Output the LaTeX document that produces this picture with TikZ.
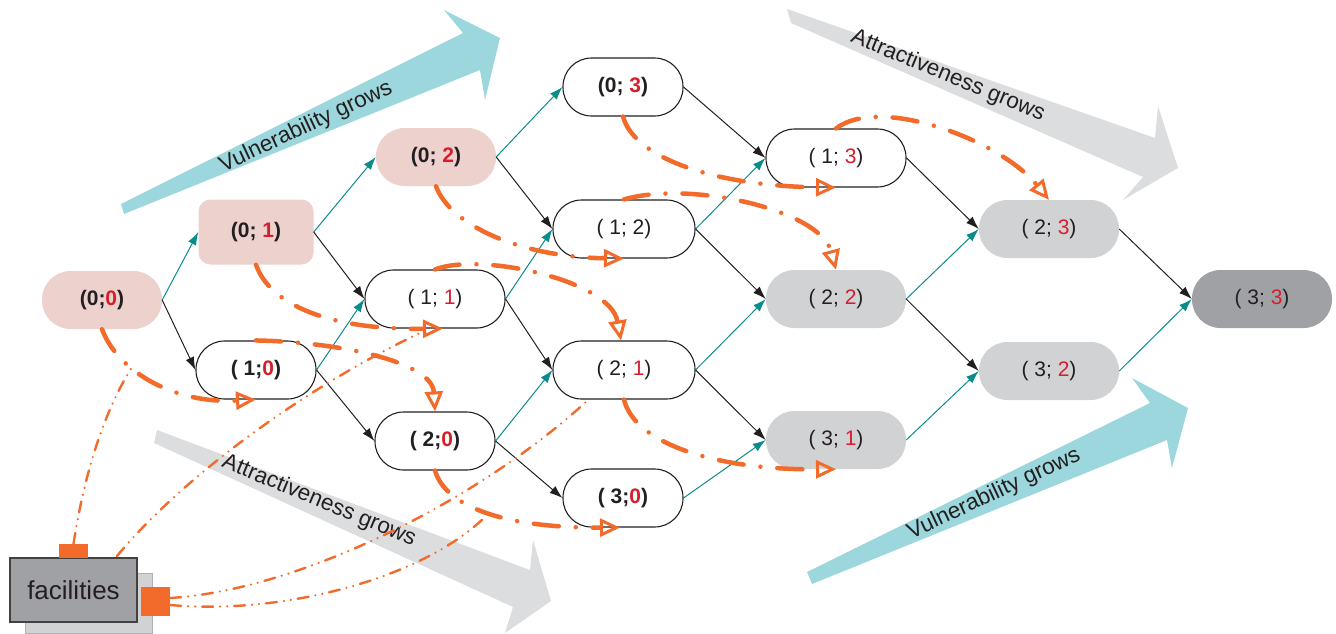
\documentclass[tikz,border=0pt]{standalone}
\usepackage{fontspec}
\setmainfont{Liberation Sans}
\usetikzlibrary{arrows.meta}
\definecolor{pinkf}{HTML}{EDD1CD}
\definecolor{grayf}{HTML}{D1D2D4}
\definecolor{dgrayf}{HTML}{A0A1A5}
\definecolor{tealc}{HTML}{0A8C8C}
\definecolor{lteal}{HTML}{9CD7DD}
\definecolor{lgray}{HTML}{DCDDDF}
\definecolor{orng}{HTML}{F26B2A}
\definecolor{nred}{HTML}{D51F2D}
\definecolor{txt}{HTML}{231F20}
\newcommand\rd[1]{\textcolor{nred}{#1}}
\begin{document}
\begin{tikzpicture}[x=1pt,y=-1pt,
  box/.style={rectangle, rounded corners=28.5pt, minimum height=58pt, inner sep=0pt, text=txt, font=\fontsize{21}{25}\selectfont},
  bbold/.style={font=\fontsize{21}{25}\selectfont\bfseries},
  wbox/.style={box, draw=txt, line width=1.1pt, fill=white},
  pbox/.style={box, fill=pinkf},
  gbox/.style={box, fill=grayf},
  dbox/.style={box, fill=dgrayf},
  blk/.style={draw=txt, line width=1pt, -{Latex[length=13pt,width=9pt]}},
  tl/.style={draw=tealc, line width=1pt, -{Latex[length=13pt,width=9pt]}},
  trn/.style={draw=orng, line width=4.5pt, line cap=round, dash pattern=on 25pt off 17pt on 0pt off 17pt, -{Triangle[open,length=20pt,width=18pt,line width=3pt]}},
  fl/.style={draw=orng, line width=2.4pt, line cap=round, dash pattern=on 11pt off 7pt on 0pt off 7pt on 0pt off 7pt},
  lab/.style={text=txt, font=\fontsize{22.5}{26}\selectfont, inner sep=0pt}
]
\useasboundingbox (0,0) rectangle (1336,633);

% big background arrows
\fill[lteal] (121,204) -- (463,33) -- (444,10) -- (500,38) -- (485,100) -- (480,70) -- (124,214) -- cycle;
\node[lab, rotate=25] (lv1) at (306,127) {Vulnerability grows};
\fill[lgray] (787,9) -- (1155,138) -- (1158,106) -- (1178,168) -- (1123,200) -- (1143,177) -- (791,23) -- cycle;
\node[lab, rotate=-22.5] (la1) at (948,76) {Attractiveness grows};
\fill[lgray] (157,430) -- (530,570) -- (533,540) -- (551,601) -- (505,633) -- (513,607) -- (154,443) -- cycle;
\node[lab, rotate=-22.5] (la2) at (319,501) {Attractiveness grows};
\fill[lteal] (807,572) -- (1150,403) -- (1132,378) -- (1188,408) -- (1172,468) -- (1167,440) -- (812,584) -- cycle;
\node[lab, rotate=25] (lv2) at (994,494) {Vulnerability grows};

% state nodes
\node[pbox, bbold, minimum width=120pt] (n00) at (102,300) {(0;\rd{0})};
\node[pbox, bbold, rounded corners=12pt, minimum width=115pt, minimum height=65pt] (n01) at (256,232) {(0; \rd{1})};
\node[wbox, bbold, minimum width=120pt] (n10) at (256,370) {( 1;\rd{0})};
\node[pbox, bbold, minimum width=120pt] (n02) at (436,157) {(0; \rd{2})};
\node[wbox, minimum width=140pt] (n11) at (435,299) {( 1; \rd{1})};
\node[wbox, bbold, minimum width=120pt] (n20) at (435,441) {( 2;\rd{0})};
\node[wbox, bbold, minimum width=120pt] (n03) at (623,87) {(0; \rd{3})};
\node[wbox, minimum width=142pt] (n12) at (624,229) {( 1; 2)};
\node[wbox, minimum width=142pt] (n21) at (624,370) {( 2; \rd{1})};
\node[wbox, bbold, minimum width=120pt] (n30) at (623,498) {( 3;\rd{0})};
\node[wbox, minimum width=140pt] (n13) at (836,158) {( 1; \rd{3})};
\node[gbox, minimum width=140pt] (n22) at (836,299) {( 2; \rd{2})};
\node[gbox, minimum width=140pt] (n31) at (836,440) {( 3; \rd{1})};
\node[gbox, minimum width=140pt] (n23) at (1049,229) {( 2; \rd{3})};
\node[gbox, minimum width=140pt] (n32) at (1049,371) {( 3; \rd{2})};
\node[dbox, minimum width=140pt] (n33) at (1262,299) {( 3; \rd{3})};

% transitions
\draw[tl] (n00.east) -- (n01.west);
\draw[blk] (n00.east) -- (n10.west);
\draw[tl] (n01.east) -- (n02.west);
\draw[blk] (n01.east) -- (n11.west);
\draw[tl] (n10.east) -- (n11.west);
\draw[blk] (n10.east) -- (n20.west);
\draw[tl] (n02.east) -- (n03.west);
\draw[blk] (n02.east) -- (n12.west);
\draw[tl] (n11.east) -- (n12.west);
\draw[blk] (n11.east) -- (n21.west);
\draw[tl] (n20.east) -- (n21.west);
\draw[blk] (n20.east) -- (n30.west);
\draw[blk] (n03.east) -- (n13.west);
\draw[tl] (n12.east) -- (n13.west);
\draw[blk] (n12.east) -- (n22.west);
\draw[tl] (n21.east) -- (n22.west);
\draw[blk] (n21.east) -- (n31.west);
\draw[tl] (n30.east) -- (n31.west);
\draw[blk] (n13.east) -- (n23.west);
\draw[tl] (n22.east) -- (n23.west);
\draw[blk] (n22.east) -- (n32.west);
\draw[tl] (n31.east) -- (n32.west);
\draw[blk] (n23.east) -- (n33.west);
\draw[tl] (n32.east) -- (n33.west);

% facilities
\node[draw=lgray!80!black, line width=1pt, fill=grayf, minimum width=127pt, minimum height=60pt, inner sep=0pt] (fbk) at (88.5,603) {};
\node[draw=txt!85, line width=1.3pt, fill=dgrayf, minimum width=127pt, minimum height=64pt, inner sep=0pt, text=txt, font=\fontsize{26}{30}\selectfont] (fb) at (73.5,590) {facilities};
\node[fill=orng, minimum width=29pt, minimum height=14pt, inner sep=0pt] (sqT) at (73.5,551) {};
\node[fill=orng, minimum width=29pt, minimum height=29pt, inner sep=0pt] (sqR) at (155.5,601.5) {};

% orange state-change curves
\draw[trn] (n00.south) .. controls (118,372) and (175,404) .. (n10.south);
\draw[trn] (n01.south) .. controls (270,305) and (330,330) .. ([xshift=8pt]n11.south);
\draw[trn] (n02.south) .. controls (450,225) and (520,257) .. (n12.south);
\draw[trn] (n03.south) .. controls (635,160) and (720,186) .. (n13.south);
\draw[trn] (n10.north) .. controls (340,342) and (432,362) .. (n20.north);
\draw[trn] (n11.north) .. controls (480,252) and (610,280) .. ([xshift=-3pt]n21.north);
\draw[trn] (n12.north) .. controls (690,180) and (820,210) .. (n22.north);
\draw[trn] (n13.north) .. controls (880,95) and (1000,140) .. (n23.north);
\draw[trn] (n20.south) .. controls (445,505) and (500,528) .. ([xshift=-3pt]n30.south);
\draw[trn] (n21.south) .. controls (635,445) and (720,470) .. (n31.south);

% facility links
\coordinate (f1e) at (132,367);
\coordinate (f2s) at (117,556);
\coordinate (f2e) at (420,333);
\coordinate (f3e) at (588,400);
\coordinate (f4e) at (485,517);
\draw[fl] (sqT.north) .. controls (85,470) and (105,410) .. (f1e);
\draw[fl] (f2s) .. controls (180,480) and (300,390) .. (f2e);
\draw[fl] ([yshift=3.5pt]sqR.east) .. controls (300,590) and (480,500) .. (f3e);
\draw[fl] ([yshift=-3.5pt]sqR.east) .. controls (280,615) and (420,580) .. (f4e);
\end{tikzpicture}
\end{document}
